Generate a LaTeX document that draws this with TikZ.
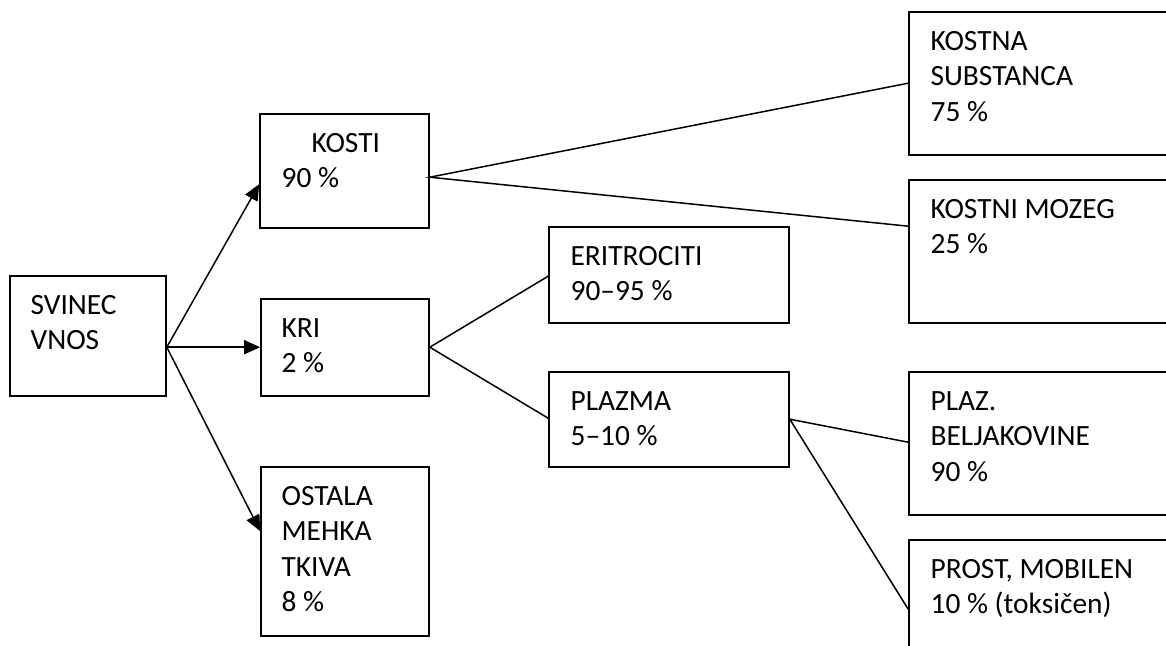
\documentclass[tikz,border=0pt]{standalone}
\usepackage{fontspec}
\setmainfont{Carlito}
\usetikzlibrary{arrows.meta,fit,calc}
\tikzset{
  box/.style={draw, line width=0.8pt, inner sep=0pt},
  lbl/.style={anchor=base west, align=left, inner sep=0pt,
    font=\fontsize{14.7pt}{17.75pt}\selectfont},
  conn/.style={line width=0.75pt},
  arr/.style={conn, -{Triangle[length=8pt,width=7pt]}}
}
\begin{document}
\begin{tikzpicture}[x=0.5pt,y=-0.5pt]
\clip (0,0) rectangle (1166,646);
\fill[white] (0,0) rectangle (1166,646);
% boxes
\node[box, fit={(10,276) (166,396)}] (svinec) {};
\node[box, fit={(260,114) (429,228)}] (kosti) {};
\node[box, fit={(261,299) (429,396)}] (kri) {};
\node[box, fit={(261,467) (429,636)}] (ostala) {};
\node[box, fit={(549,227) (789,323)}] (eri) {};
\node[box, fit={(549,372) (789,467)}] (plazma) {};
\node[box, fit={(909,12) (1200,155)}] (kostna) {};
\node[box, fit={(909,180) (1200,323)}] (mozeg) {};
\node[box, fit={(909,372) (1200,515)}] (plaz) {};
\node[box, fit={(909,540) (1200,700)}] (prost) {};
% texts (anchor = baseline of the last line; line pitch 35.5)
\node[lbl] (tsvinec) at ($(svinec.north west)+(21,74.5)$) {SVINEC\\VNOS};
\node[lbl] (tkosti) at ($(kosti.north west)+(22,74.5)$) {\hspace*{15pt}KOSTI\\90 \%};
\node[lbl] (tkri) at ($(kri.north west)+(21,74.5)$) {KRI\\2 \%};
\node[lbl] (tostala) at ($(ostala.north west)+(21,145.5)$) {OSTALA\\MEHKA\\TKIVA\\8 \%};
\node[lbl] (teri) at ($(eri.north west)+(22,74.5)$) {ERITROCITI\\90–95 \%};
\node[lbl] (tplazma) at ($(plazma.north west)+(22,74.5)$) {PLAZMA\\5–10 \%};
\node[lbl] (tkostna) at ($(kostna.north west)+(22,110)$) {KOSTNA\\SUBSTANCA\\75 \%};
\node[lbl] (tmozeg) at ($(mozeg.north west)+(22,74.5)$) {KOSTNI MOZEG\\25 \%};
\node[lbl] (tplaz) at ($(plaz.north west)+(22,110)$) {PLAZ.\\BELJAKOVINE\\90 \%};
\node[lbl] (tprost) at ($(prost.north west)+(22,74.5)$) {PROST, MOBILEN\\10 \% (toksičen)};
% connection points
\coordinate (sOut) at ($(svinec.north east)+(0,72)$);
\coordinate (kostiIn) at ($(kosti.north west)+(0,71)$);
\coordinate (kriIn) at ($(kri.north west)+(0,49)$);
\coordinate (ostIn) at ($(ostala.north west)+(0,65)$);
\coordinate (kostiOut) at ($(kosti.north east)+(0,64)$);
\coordinate (kostnaIn) at ($(kostna.north west)+(0,72)$);
\coordinate (mozegIn) at ($(mozeg.north west)+(0,47)$);
\coordinate (kriOut) at ($(kri.north east)+(0,49)$);
\coordinate (eriIn) at ($(eri.north west)+(0,50)$);
\coordinate (plazmaIn) at ($(plazma.north west)+(0,47)$);
\coordinate (plazmaOut) at ($(plazma.north east)+(0,48)$);
\coordinate (plazIn) at ($(plaz.north west)+(0,71)$);
\coordinate (prostIn) at ($(prost.north west)+(0,70)$);
% connectors
\draw[arr] (sOut) -- (kostiIn);
\draw[arr] (sOut) -- (kriIn);
\draw[arr] (sOut) -- (ostIn);
\draw[conn] (kostnaIn) -- (kostiOut) -- (mozegIn);
\draw[conn] (eriIn) -- (kriOut) -- (plazmaIn);
\draw[conn] (plazIn) -- (plazmaOut) -- (prostIn);
\end{tikzpicture}
\end{document}
